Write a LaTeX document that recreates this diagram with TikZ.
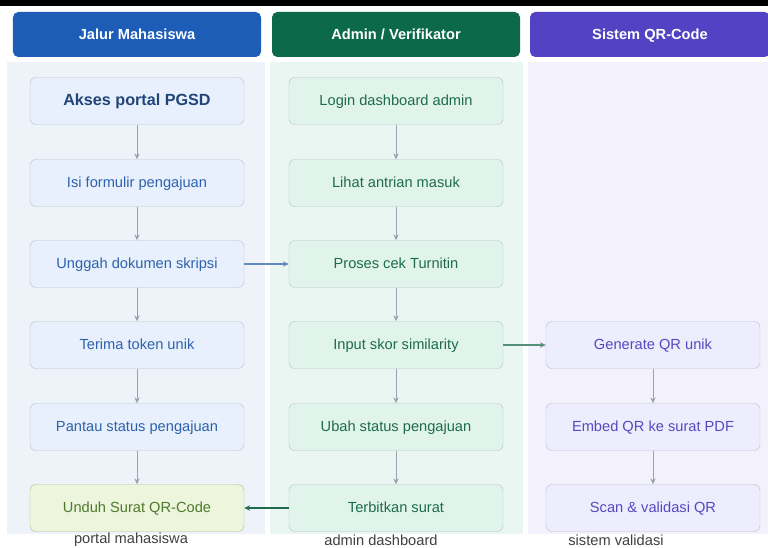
\documentclass[tikz,border=0pt]{standalone}
\usepackage{fontspec}
\setmainfont{Liberation Sans}
\usepackage{tikz}
\usetikzlibrary{arrows.meta}
\usepackage{xcolor}

\definecolor{mhsHead}{HTML}{1D5DB8}
\definecolor{admHead}{HTML}{0C6A4A}
\definecolor{qrHead}{HTML}{5343C4}
\definecolor{mhsLane}{HTML}{EEF3FA}
\definecolor{admLane}{HTML}{E9F6F1}
\definecolor{qrLane}{HTML}{F3F2FC}
\definecolor{mhsFill}{HTML}{E7F0FC}
\definecolor{admFill}{HTML}{E1F4EC}
\definecolor{qrFill}{HTML}{EEEDFD}
\definecolor{doneFill}{HTML}{EDF5DD}
\definecolor{mhsText}{HTML}{2F62AC}
\definecolor{admText}{HTML}{1E6B4E}
\definecolor{qrText}{HTML}{5848C0}
\definecolor{doneText}{HTML}{4E7A2C}
\definecolor{edge}{HTML}{BAC4CF}
\definecolor{flow}{HTML}{9AA3AD}

\begin{document}
\begin{tikzpicture}[
    x=0.3mm, y=-0.3mm,
    >={Stealth[length=5pt, width=4.5pt]},
    head/.style={rounded corners=1.6mm, minimum width=74.4mm, minimum height=13.5mm, text=white, text height=10pt, text depth=2pt, font=\fontsize{12.5}{14}\selectfont\bfseries},
    box/.style={draw=edge, rounded corners=1.8mm, minimum width=64.2mm, minimum height=14.1mm, text height=10pt, text depth=2pt, font=\fontsize{12.5}{14}\selectfont},
    mhs/.style={box, fill=mhsFill, text=mhsText},
    adm/.style={box, fill=admFill, text=admText},
    qr/.style={box, fill=qrFill, text=qrText},
    down/.style={->, flow, semithick},
    cross/.style={->, line width=1.1pt},
    note/.style={text=black!75, font=\fontsize{12.5}{14}\selectfont}
]
\useasboundingbox (0,0) rectangle (768,548);
\fill[white] (0,0) rectangle (768,548);
\fill[black] (0,0) rectangle (768,6);

% swimlanes
\fill[mhsLane] (7,62) rectangle (265,534);
\fill[admLane] (270,62) rectangle (523,534);
\fill[qrLane] (528,62) rectangle (768,534);

\node[head, fill=mhsHead] (hmhs) at (137,34.5) {Jalur Mahasiswa};
\node[head, fill=admHead] (hadm) at (396,34.5) {Admin / Verifikator};
\node[head, fill=qrHead, minimum width=72mm] (hqr) at (650,34.5) {Sistem QR-Code};

% mahasiswa
\node[mhs, text=mhsText!70!black, font=\fontsize{13.8}{16}\selectfont\bfseries] (akses) at (137,101) {Akses portal PGSD};
\node[mhs] (isi) at (137,183) {Isi formulir pengajuan};
\node[mhs] (unggah) at (137,264) {Unggah dokumen skripsi};
\node[mhs] (token) at (137,345) {Terima token unik};
\node[mhs] (pantau) at (137,427) {Pantau status pengajuan};
\node[box, fill=doneFill, draw=doneText!45, text=doneText] (unduh) at (137,508) {Unduh Surat QR-Code};

% admin
\node[adm] (login) at (396,101) {Login dashboard admin};
\node[adm] (antrian) at (396,183) {Lihat antrian masuk};
\node[adm] (turnitin) at (396,264) {Proses cek Turnitin};
\node[adm] (skor) at (396,345) {Input skor similarity};
\node[adm] (ubah) at (396,427) {Ubah status pengajuan};
\node[adm] (terbit) at (396,508) {Terbitkan surat};

% sistem QR
\node[qr] (genqr) at (653,345) {Generate QR unik};
\node[qr] (embed) at (653,427) {Embed QR ke surat PDF};
\node[qr] (scan) at (653,508) {Scan \& validasi QR};

\draw[down] (akses) -- (isi);
\draw[down] (isi) -- (unggah);
\draw[down] (unggah) -- (token);
\draw[down] (token) -- (pantau);
\draw[down] (pantau) -- (unduh);
\draw[down] (login) -- (antrian);
\draw[down] (antrian) -- (turnitin);
\draw[down] (turnitin) -- (skor);
\draw[down] (skor) -- (ubah);
\draw[down] (ubah) -- (terbit);
\draw[down] (genqr) -- (embed);
\draw[down] (embed) -- (scan);

\draw[cross, mhsText!75] (unggah) -- (turnitin);
\draw[cross, admText!75] (skor) -- (genqr);
\draw[cross, admText] (terbit) -- (unduh);

\node[note] (lmhs) at (131,540) {portal mahasiswa};
\node[note] (ladm) at (381,540) {admin dashboard};
\node[note] (lqr) at (616,540) {sistem validasi};
\end{tikzpicture}
\end{document}
